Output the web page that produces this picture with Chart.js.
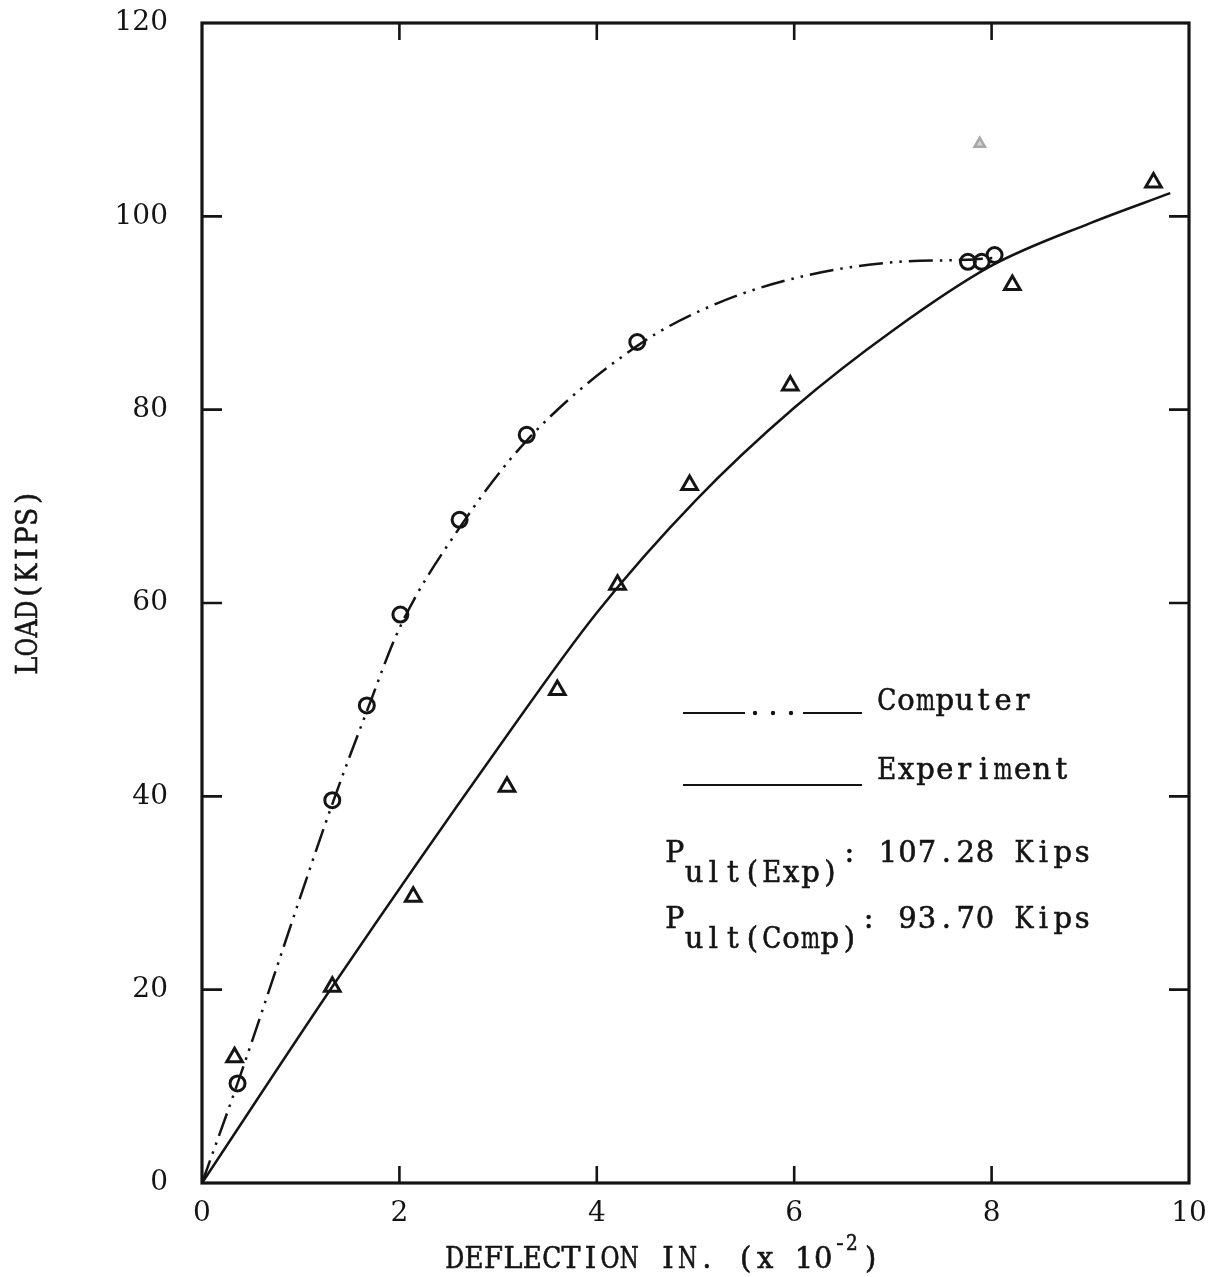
<!DOCTYPE html>
<html>
<head>
<meta charset="utf-8">
<script src="https://cdn.jsdelivr.net/npm/chart.js@4.4.1/dist/chart.umd.min.js"></script>
<style>
  html, body { margin: 0; padding: 0; background: #fff; }
  canvas { display: block; }
</style>
</head>
<body>
<canvas id="c" width="1217" height="1277"></canvas>
<script>
// ---- data ----
const xTickValues = [0, 2, 4, 6, 8, 10];
const yTickValues = [0, 20, 40, 60, 80, 100, 120];

// Computer (analysis) curve, dash-dot-dot
const computerCurveX = [0, 0.36, 1.32, 1.67, 2.01, 2.61, 3.29, 4.41, 5.22, 6.13, 7.07, 7.75, 8.03];
const computerCurveY = [0, 10.3, 39.2, 48.8, 57.6, 67.8, 76.8, 86.6, 91.0, 93.9, 95.3, 95.5, 95.7];

// Computer points (circles)
const computerPtsX = [0.36, 1.32, 1.67, 2.01, 2.61, 3.29, 4.41, 7.76, 7.90, 8.03];
const computerPtsY = [10.3, 39.6, 49.4, 58.8, 68.6, 77.4, 87.0, 95.3, 95.3, 96.0];

// Experiment curve, solid
const experimentCurveX = [0, 1.32, 3.0, 4.0, 5.0, 6.0, 7.0, 8.0, 9.0, 9.81];
const experimentCurveY = [0, 20.3, 45.0, 59.0, 70.6, 80.2, 88.2, 94.9, 99.3, 102.4];

// Experiment points (triangles)
const experimentPtsX = [0.33, 1.32, 2.14, 3.09, 3.60, 4.21, 4.94, 5.96, 8.21, 9.64];
const experimentPtsY = [13.0, 20.3, 29.6, 41.0, 51.0, 61.9, 72.2, 82.5, 92.9, 103.5];

// faint ultimate-load mark
const ultimatePtX = [7.88];
const ultimatePtY = [107.5];

const legendLabels = ['Computer', 'Experiment'];
const pultExpText = ['P', 'ult(Exp)', ': 107.28 Kips'];
const pultCompText = ['P', 'ult(Comp)', ': 93.70 Kips'];
const xTitle = ['DEFLECTION IN. (x 10', '-2', ')'];
const yTitle = 'LOAD(KIPS)';

const zip = (xs, ys) => xs.map((x, i) => ({ x: x, y: ys[i] }));

const INK = '#141414';
const FONT = '"DejaVu Serif", "Liberation Serif", serif';
const PITCH = 19.4;

// typewriter-style text: every character in a fixed-width cell
function typeText(ctx, s, x, y, size, pitch) {
  ctx.font = size + 'px ' + FONT;
  ctx.textAlign = 'center';
  ctx.lineWidth = 0.6;
  for (let i = 0; i < s.length; i++) {
    const ch = s[i];
    if (ch === ' ') continue;
    const cx = x + i * pitch + pitch / 2;
    ctx.fillText(ch, cx, y, pitch * 0.98);
    ctx.strokeText(ch, cx, y, pitch * 0.98);
  }
  return s.length * pitch;
}

const framePlugin = {
  id: 'frame',
  afterDraw(chart) {
    const ctx = chart.ctx;
    const a = chart.chartArea;
    const xs = chart.scales.x, ys = chart.scales.y;
    ctx.save();
    ctx.strokeStyle = INK;
    ctx.fillStyle = INK;
    ctx.lineCap = 'butt';
    // frame
    ctx.lineWidth = 3.2;
    ctx.strokeRect(a.left, a.top, a.right - a.left, a.bottom - a.top);
    // inward ticks
    ctx.lineWidth = 2.6;
    xTickValues.slice(1, -1).forEach(v => {
      const p = xs.getPixelForValue(v);
      ctx.beginPath();
      ctx.moveTo(p, a.bottom); ctx.lineTo(p, a.bottom - 17);
      ctx.moveTo(p, a.top); ctx.lineTo(p, a.top + 17);
      ctx.stroke();
    });
    yTickValues.slice(1, -1).forEach(v => {
      const p = ys.getPixelForValue(v);
      ctx.beginPath();
      ctx.moveTo(a.left, p); ctx.lineTo(a.left + 20, p);
      ctx.moveTo(a.right, p); ctx.lineTo(a.right - 20, p);
      ctx.stroke();
    });

    // legend samples
    ctx.lineWidth = 2.2;
    ctx.beginPath();
    ctx.moveTo(683, 713); ctx.lineTo(745, 713);
    ctx.moveTo(803, 713); ctx.lineTo(862, 713);
    ctx.stroke();
    [755, 773, 791].forEach(x => { ctx.beginPath(); ctx.arc(x, 713, 2.2, 0, Math.PI * 2); ctx.fill(); });
    ctx.beginPath();
    ctx.moveTo(683, 785); ctx.lineTo(862, 785);
    ctx.stroke();

    ctx.textBaseline = 'alphabetic';
    typeText(ctx, legendLabels[0], 877, 710, 29, PITCH);
    typeText(ctx, legendLabels[1], 877, 779, 29, PITCH);

    // P_ult annotations
    let w = typeText(ctx, pultExpText[0], 665, 862, 29, PITCH);
    let w2 = typeText(ctx, pultExpText[1], 665 + w, 882, 29, PITCH);
    typeText(ctx, pultExpText[2], 665 + w + w2, 862, 29, PITCH);
    w = typeText(ctx, pultCompText[0], 665, 928, 29, PITCH);
    w2 = typeText(ctx, pultCompText[1], 665 + w, 948, 29, PITCH);
    typeText(ctx, pultCompText[2], 665 + w + w2, 928, 29, PITCH);

    // x title with superscript
    let xw = typeText(ctx, xTitle[0], 445, 1268, 29, PITCH);
    let sw = typeText(ctx, xTitle[1], 445 + xw + 1, 1250, 22, 12);
    typeText(ctx, xTitle[2], 445 + xw + sw + 4, 1268, 29, PITCH);

    // y title rotated
    ctx.translate(29, 582);
    ctx.rotate(-Math.PI / 2);
    ctx.textBaseline = 'middle';
    typeText(ctx, yTitle, -yTitle.length * 18.6 / 2, 0, 29, 18.6);
    ctx.restore();
  }
};

new Chart(document.getElementById('c'), {
  type: 'scatter',
  data: {
    datasets: [
      {
        label: 'Computer curve',
        data: zip(computerCurveX, computerCurveY),
        showLine: true,
        borderColor: INK,
        borderWidth: 2.5,
        borderDash: [24, 7, 2.5, 7, 2.5, 7],
        pointRadius: 0,
        cubicInterpolationMode: 'monotone',
        fill: false
      },
      {
        label: 'Experiment curve',
        data: zip(experimentCurveX, experimentCurveY),
        showLine: true,
        borderColor: INK,
        borderWidth: 2.5,
        pointRadius: 0,
        cubicInterpolationMode: 'monotone',
        fill: false
      },
      {
        label: 'Computer',
        data: zip(computerPtsX, computerPtsY),
        pointStyle: 'circle',
        pointRadius: 7.5,
        pointBorderWidth: 3,
        borderColor: INK,
        backgroundColor: 'rgba(0,0,0,0)'
      },
      {
        label: 'Experiment',
        data: zip(experimentPtsX, experimentPtsY),
        pointStyle: 'triangle',
        pointRadius: 9,
        pointBorderWidth: 3,
        borderColor: INK,
        backgroundColor: 'rgba(0,0,0,0)'
      },
      {
        label: 'Ultimate',
        data: zip(ultimatePtX, ultimatePtY),
        pointStyle: 'triangle',
        pointRadius: 6,
        pointBorderWidth: 2.5,
        borderColor: '#a8a8a8',
        backgroundColor: 'rgba(170,170,170,0.5)'
      }
    ]
  },
  options: {
    responsive: false,
    devicePixelRatio: 1,
    animation: false,
    layout: { padding: { top: 23, right: 28, left: 0, bottom: 0 } },
    plugins: { legend: { display: false }, tooltip: { enabled: false } },
    scales: {
      x: {
        type: 'linear',
        min: 0, max: 10,
        ticks: { stepSize: 2, color: INK, font: { family: FONT, size: 28 }, padding: 14, maxRotation: 0 },
        grid: { display: false, drawTicks: false },
        border: { display: false },
        afterFit(s) { s.height = 94; s.paddingLeft = 0; s.paddingRight = 0; }
      },
      y: {
        type: 'linear',
        min: 0, max: 120,
        ticks: { stepSize: 20, color: INK, font: { family: FONT, size: 28 }, padding: 34 },
        grid: { display: false, drawTicks: false },
        border: { display: false },
        afterFit(s) { s.width = 202; s.paddingTop = 0; s.paddingBottom = 0; }
      }
    }
  },
  plugins: [framePlugin]
});
</script>
</body>
</html>
